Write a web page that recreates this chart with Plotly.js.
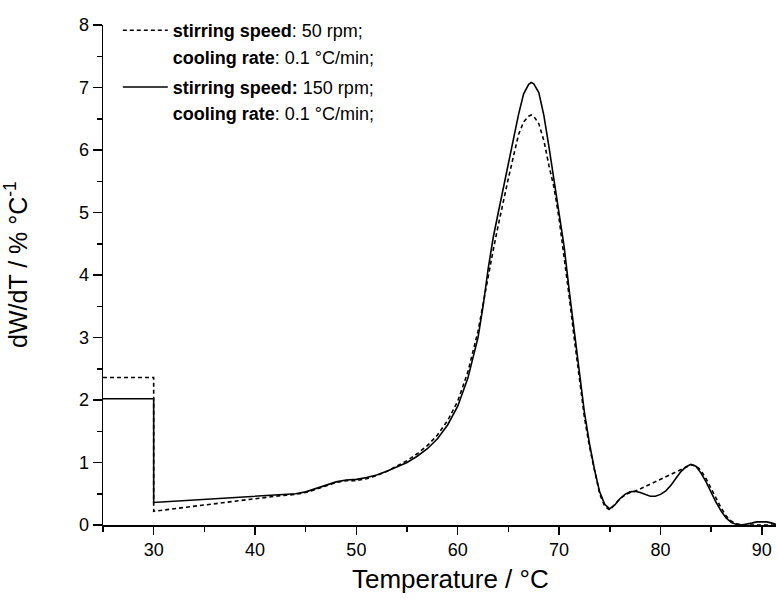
<!DOCTYPE html>
<html>
<head>
<meta charset="utf-8">
<script src="https://cdn.plot.ly/plotly-3.0.1.min.js"></script>
<style>html,body{margin:0;padding:0;background:#fff;}#chart{width:778px;height:604px;}</style>
</head>
<body>
<div id="chart"></div>
<script>
// Temperature (°C) and dW/dT (% °C^-1)
var temp150 = [25, 30, 30, 32, 35, 38, 40, 42, 44, 45, 46, 47, 48, 49, 50, 51, 52, 53, 54, 55, 56, 57, 58, 59, 60, 61, 62, 62.5, 63, 63.5, 64, 64.5, 65, 65.5, 66, 66.5, 67, 67.25, 67.5, 68, 68.5, 69, 69.5, 70, 70.5, 71, 71.5, 72, 72.5, 73, 73.5, 74, 74.5, 75, 75.5, 76, 76.5, 77, 77.5, 78, 78.5, 79, 79.5, 80, 80.5, 81, 81.5, 82, 82.5, 83, 83.5, 84, 84.5, 85, 85.5, 86, 86.5, 87, 87.5, 88, 88.5, 89, 89.5, 90, 90.5, 91, 91.4];
var rate150 = [2.02, 2.02, 0.36, 0.38, 0.41, 0.43, 0.45, 0.47, 0.50, 0.53, 0.58, 0.64, 0.69, 0.72, 0.73, 0.76, 0.80, 0.86, 0.93, 1.00, 1.10, 1.22, 1.38, 1.60, 1.90, 2.35, 3.00, 3.50, 4.10, 4.60, 5.00, 5.40, 5.80, 6.20, 6.57, 6.90, 7.05, 7.08, 7.06, 6.92, 6.55, 6.05, 5.50, 4.95, 4.45, 3.75, 3.10, 2.40, 1.80, 1.30, 0.88, 0.53, 0.33, 0.26, 0.32, 0.42, 0.49, 0.53, 0.54, 0.52, 0.49, 0.46, 0.46, 0.49, 0.54, 0.63, 0.74, 0.85, 0.93, 0.97, 0.94, 0.83, 0.69, 0.52, 0.36, 0.22, 0.11, 0.04, 0.01, 0.00, 0.01, 0.03, 0.05, 0.05, 0.05, 0.03, 0.01];

var temp50 = [25, 30, 30, 32, 35, 38, 40, 42, 44, 45, 46, 47, 48, 49, 50, 51, 52, 53, 54, 55, 56, 57, 58, 59, 60, 61, 62, 62.5, 63, 63.5, 64, 64.5, 65, 65.5, 66, 66.5, 67, 67.25, 67.5, 68, 68.5, 69, 69.5, 70, 70.5, 71, 71.5, 72, 72.5, 73, 73.5, 74, 74.5, 75, 75.5, 76, 76.5, 77, 77.5, 82.5, 83, 83.5, 84, 84.5, 85, 85.5, 86, 86.5, 87, 87.5, 88, 89, 90, 91.4];
var rate50 = [2.36, 2.36, 0.22, 0.26, 0.32, 0.39, 0.43, 0.46, 0.49, 0.52, 0.57, 0.63, 0.68, 0.71, 0.71, 0.74, 0.79, 0.86, 0.94, 1.03, 1.14, 1.27, 1.44, 1.67, 1.98, 2.45, 3.10, 3.55, 4.00, 4.40, 4.80, 5.20, 5.55, 5.90, 6.25, 6.45, 6.54, 6.56, 6.54, 6.42, 6.15, 5.75, 5.40, 4.90, 4.30, 3.65, 2.98, 2.30, 1.72, 1.25, 0.85, 0.50, 0.30, 0.24, 0.33, 0.42, 0.48, 0.52, 0.54, 0.93, 0.96, 0.95, 0.87, 0.74, 0.58, 0.42, 0.27, 0.14, 0.06, 0.02, 0.00, 0.00, 0.00, 0.00];

var name50a = '<b>stirring speed</b>: 50 rpm;';
var name150a = '<b>stirring speed:</b> 150 rpm;';
var nameRate = '<b>cooling rate</b>: 0.1 °C/min;';
var xTitle = '&nbsp;&nbsp;&nbsp;Temperature / °C';
var yTitle = '&nbsp;&nbsp;&nbsp;dW/dT / % °C<sup>-1</sup>';

var FONT = 'Liberation Sans, Arial, sans-serif';

var traces = [
  {x: temp50, y: rate50, mode: 'lines', name: name50a, legendgroup: 'a',
   line: {color: '#000', width: 1.6, dash: '4px,3px'}},
  {x: [null], y: [null], mode: 'lines', name: nameRate, legendgroup: 'a',
   line: {color: 'rgba(0,0,0,0)', width: 0}, hoverinfo: 'skip'},
  {x: temp150, y: rate150, mode: 'lines', name: name150a, legendgroup: 'b',
   line: {color: '#000', width: 1.6}},
  {x: [null], y: [null], mode: 'lines', name: nameRate, legendgroup: 'b',
   line: {color: 'rgba(0,0,0,0)', width: 0}, hoverinfo: 'skip'}
];

var axisCommon = {
  showline: true, linecolor: '#000', linewidth: 1.5,
  ticks: 'outside', tickcolor: '#000', tickwidth: 1.5,
  showgrid: false, zeroline: false,
  tickfont: {family: FONT, size: 18, color: '#000'}
};

var layout = {
  width: 778, height: 604,
  margin: {l: 103, r: 2, t: 25, b: 79},
  paper_bgcolor: '#fff', plot_bgcolor: '#fff',
  font: {family: FONT, color: '#000'},
  showlegend: true,
  legend: {
    x: 0.022, y: 1.026, xanchor: 'left', yanchor: 'top',
    bgcolor: 'rgba(0,0,0,0)', borderwidth: 0,
    font: {family: FONT, size: 18, color: '#000'},
    traceorder: 'grouped', tracegroupgap: 4, itemwidth: 45
  },
  xaxis: Object.assign({}, axisCommon, {
    range: [25, 91.4], tick0: 0, dtick: 10, ticklen: 8,
    minor: {ticks: 'outside', dtick: 5, tick0: 0, ticklen: 5, tickwidth: 1.5, tickcolor: '#000'},
    title: {text: xTitle, font: {family: FONT, size: 26, color: '#000'}, standoff: 10}
  }),
  yaxis: Object.assign({}, axisCommon, {
    range: [0, 8], tick0: 0, dtick: 1, ticklen: 9,
    minor: {ticks: 'outside', dtick: 0.5, tick0: 0, ticklen: 5, tickwidth: 1.5, tickcolor: '#000'},
    title: {text: yTitle, font: {family: FONT, size: 25, color: '#000'}, standoff: 44}
  })
};

Plotly.newPlot('chart', traces, layout, {displayModeBar: false, staticPlot: true});
</script>
</body>
</html>
